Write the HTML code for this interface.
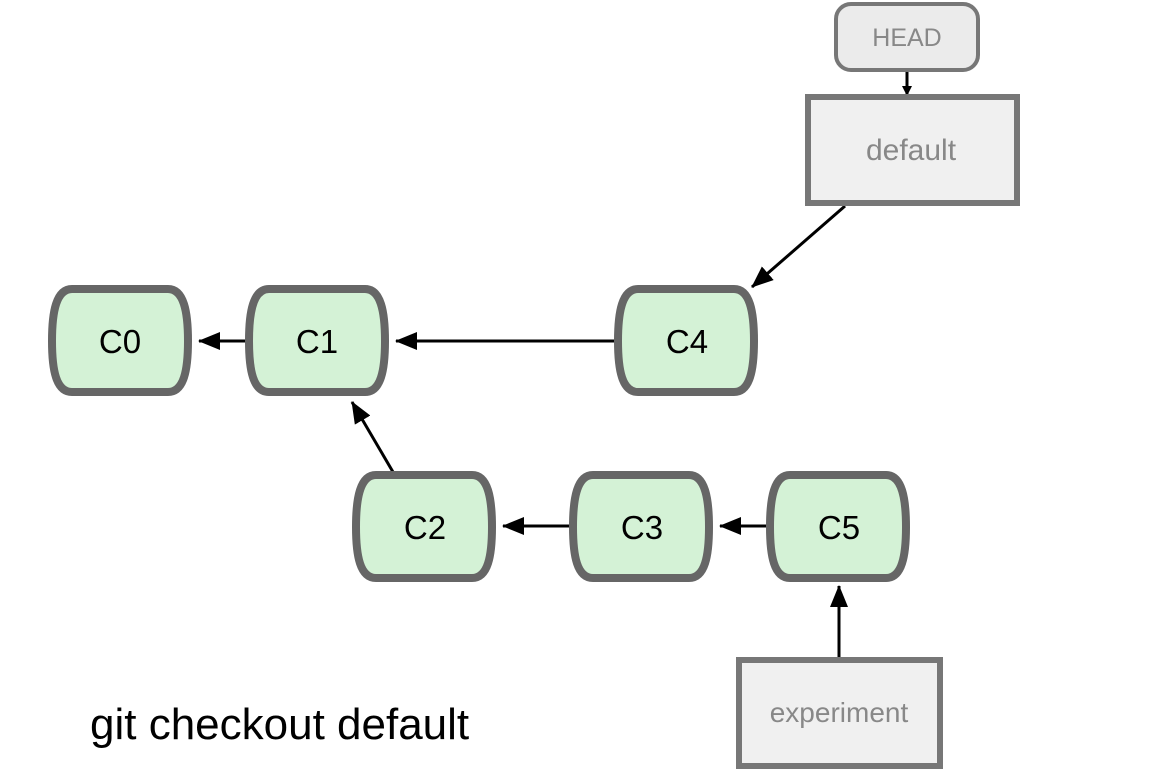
<!DOCTYPE html>
<html><head><meta charset="utf-8"><style>
html,body{margin:0;padding:0;background:#fff;width:1166px;height:782px;overflow:hidden}
text{font-family:"Liberation Sans",sans-serif}
</style></head><body>
<svg width="1166" height="782" viewBox="0 0 1166 782" xmlns="http://www.w3.org/2000/svg">
<defs>
<marker id="a" markerWidth="10" markerHeight="10" refX="9" refY="5" orient="auto" markerUnits="userSpaceOnUse" viewBox="0 0 10 10">
<path d="M0,0 L10,5 L0,10 z" fill="#000"/></marker>
<marker id="b" markerWidth="22" markerHeight="18" refX="21" refY="9" orient="auto" markerUnits="userSpaceOnUse">
<path d="M0,0 L22,9 L0,18 z" fill="#000"/></marker>
</defs>
<g stroke="#000" stroke-width="3" fill="none">
<line x1="245" y1="341" x2="199" y2="341" marker-end="url(#b)"/>
<line x1="614" y1="341" x2="396" y2="341" marker-end="url(#b)"/>
<line x1="393" y1="472" x2="352" y2="402" marker-end="url(#b)"/>
<line x1="569" y1="526" x2="503" y2="526" marker-end="url(#b)"/>
<line x1="766" y1="526" x2="720" y2="526" marker-end="url(#b)"/>
<line x1="839" y1="657" x2="839" y2="586" marker-end="url(#b)"/>
<line x1="845" y1="206" x2="752" y2="287" marker-end="url(#b)"/>
<line x1="907" y1="71" x2="907" y2="95" marker-end="url(#a)"/>
</g>
<g fill="#d4f2d6" stroke="#666" stroke-width="8">
<path id="n" d="M72,289 H168 C184,289 188,312 188,341 C188,370 184,392 168,392 H72 C56,392 52,370 52,341 C52,312 56,289 72,289 Z"/>
<use href="#n" x="197"/>
<use href="#n" x="566"/>
<use href="#n" x="304" y="186"/>
<use href="#n" x="521" y="186"/>
<use href="#n" x="718" y="186"/>
</g>
<g font-size="33" fill="#000" text-anchor="middle">
<text x="120" y="353">C0</text>
<text x="317" y="353">C1</text>
<text x="687" y="353">C4</text>
<text x="425" y="539">C2</text>
<text x="642" y="539">C3</text>
<text x="839" y="539">C5</text>
</g>
<rect x="836" y="4" width="142" height="66" rx="15" fill="#ebebeb" stroke="#777" stroke-width="4"/>
<text x="907" y="46" font-size="25" fill="#888" text-anchor="middle">HEAD</text>
<rect x="808" y="97" width="209" height="106" fill="#f0f0f0" stroke="#777" stroke-width="6"/>
<text x="911" y="160" font-size="30" fill="#888" text-anchor="middle">default</text>
<rect x="739" y="660" width="201" height="106" fill="#f0f0f0" stroke="#777" stroke-width="6"/>
<text x="839" y="722" font-size="28" fill="#888" text-anchor="middle">experiment</text>
<text x="90" y="739" font-size="44" fill="#000">git checkout default</text>
</svg>
</body></html>
